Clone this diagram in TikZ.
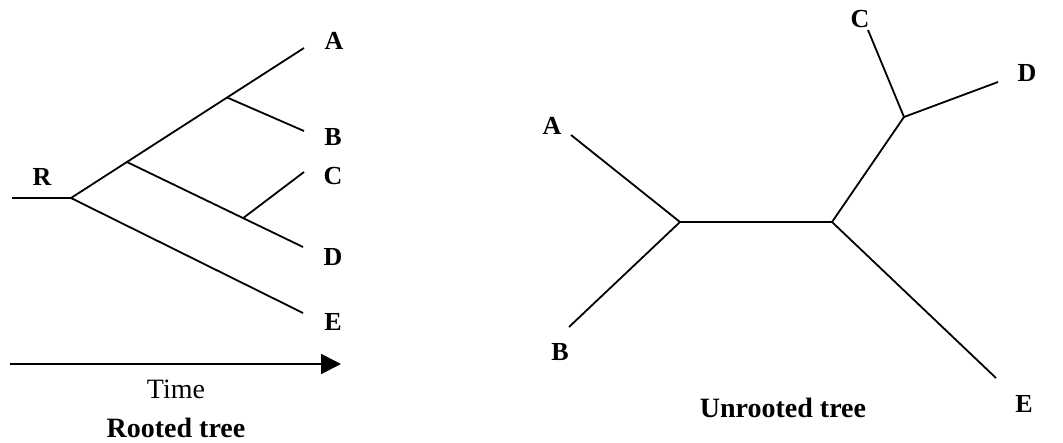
\documentclass[tikz,border=0pt]{standalone}
\usepackage{fontspec}
\setmainfont{Liberation Serif}
\usetikzlibrary{calc,arrows.meta}
\tikzset{branche/.style={
    draw=black,
    line width=1.8pt}}
\tikzset{feuille/.style={
    font=\fontsize{26}{30}\selectfont\bfseries,
    inner sep=0pt}}
\tikzset{titre/.style={
    font=\fontsize{28}{33}\selectfont\bfseries,
    inner sep=0pt}}

\begin{document}
\begin{tikzpicture}[x=1pt,y=-1pt]
	\useasboundingbox (0,0) rectangle (1063,442);
% rooted tree
\coordinate (rstem) at (12,198);
\coordinate (rroot) at (71,198);
\coordinate (rA) at (304,48);
\coordinate (rB) at (304,131);
\coordinate (rC) at (304,172);
\coordinate (rD) at (303,247);
\coordinate (rE) at (303,313);
\coordinate (rn1) at ($(rroot)!0.24!(rA)$);
\coordinate (rn2) at ($(rroot)!0.67!(rA)$);
\coordinate (rn3) at ($(rn1)!0.66!(rD)$);

\path[branche] (rstem) -- (rroot) -- (rA);
\path[branche] (rroot) -- (rE);
\path[branche] (rn1) -- (rD);
\path[branche] (rn2) -- (rB);
\path[branche] (rn3) -- (rC);

\node[feuille] (lR) at (42,177) {R};
\node[feuille] (lrA) at (334,41) {A};
\node[feuille] (lrB) at (333,137) {B};
\node[feuille] (lrC) at (333,176) {C};
\node[feuille] (lrD) at (333,257) {D};
\node[feuille] (lrE) at (333,322) {E};

\coordinate (tdebut) at (10,364);
\coordinate (tfin) at (341,364);
\draw[line width=1.8pt, -{Triangle[length=20pt,width=20pt]}] (tdebut) -- (tfin);
\node[inner sep=0pt, font=\fontsize{28}{33}\selectfont] (ltime) at (176,389) {Time};
\node[titre] (lrooted) at (176,428) {Rooted tree};

% unrooted tree
\coordinate (ul) at (680,222);
\coordinate (um) at (832,222);
\coordinate (up) at (904,117);
\coordinate (uA) at (571,135);
\coordinate (uB) at (569,327);
\coordinate (uC) at (868,30);
\coordinate (uD) at (998,82);
\coordinate (uE) at (996,378);

\path[branche] (uA) -- (ul) -- (uB);
\path[branche] (ul) -- (um) -- (uE);
\path[branche] (um) -- (up) -- (uC);
\path[branche] (up) -- (uD);

\node[feuille] (luA) at (552,126) {A};
\node[feuille] (luB) at (560,352) {B};
\node[feuille] (luC) at (860,19) {C};
\node[feuille] (luD) at (1027,73) {D};
\node[feuille] (luE) at (1024,404) {E};
\node[titre] (lunrooted) at (783,408) {Unrooted tree};
\end{tikzpicture}
\end{document}
